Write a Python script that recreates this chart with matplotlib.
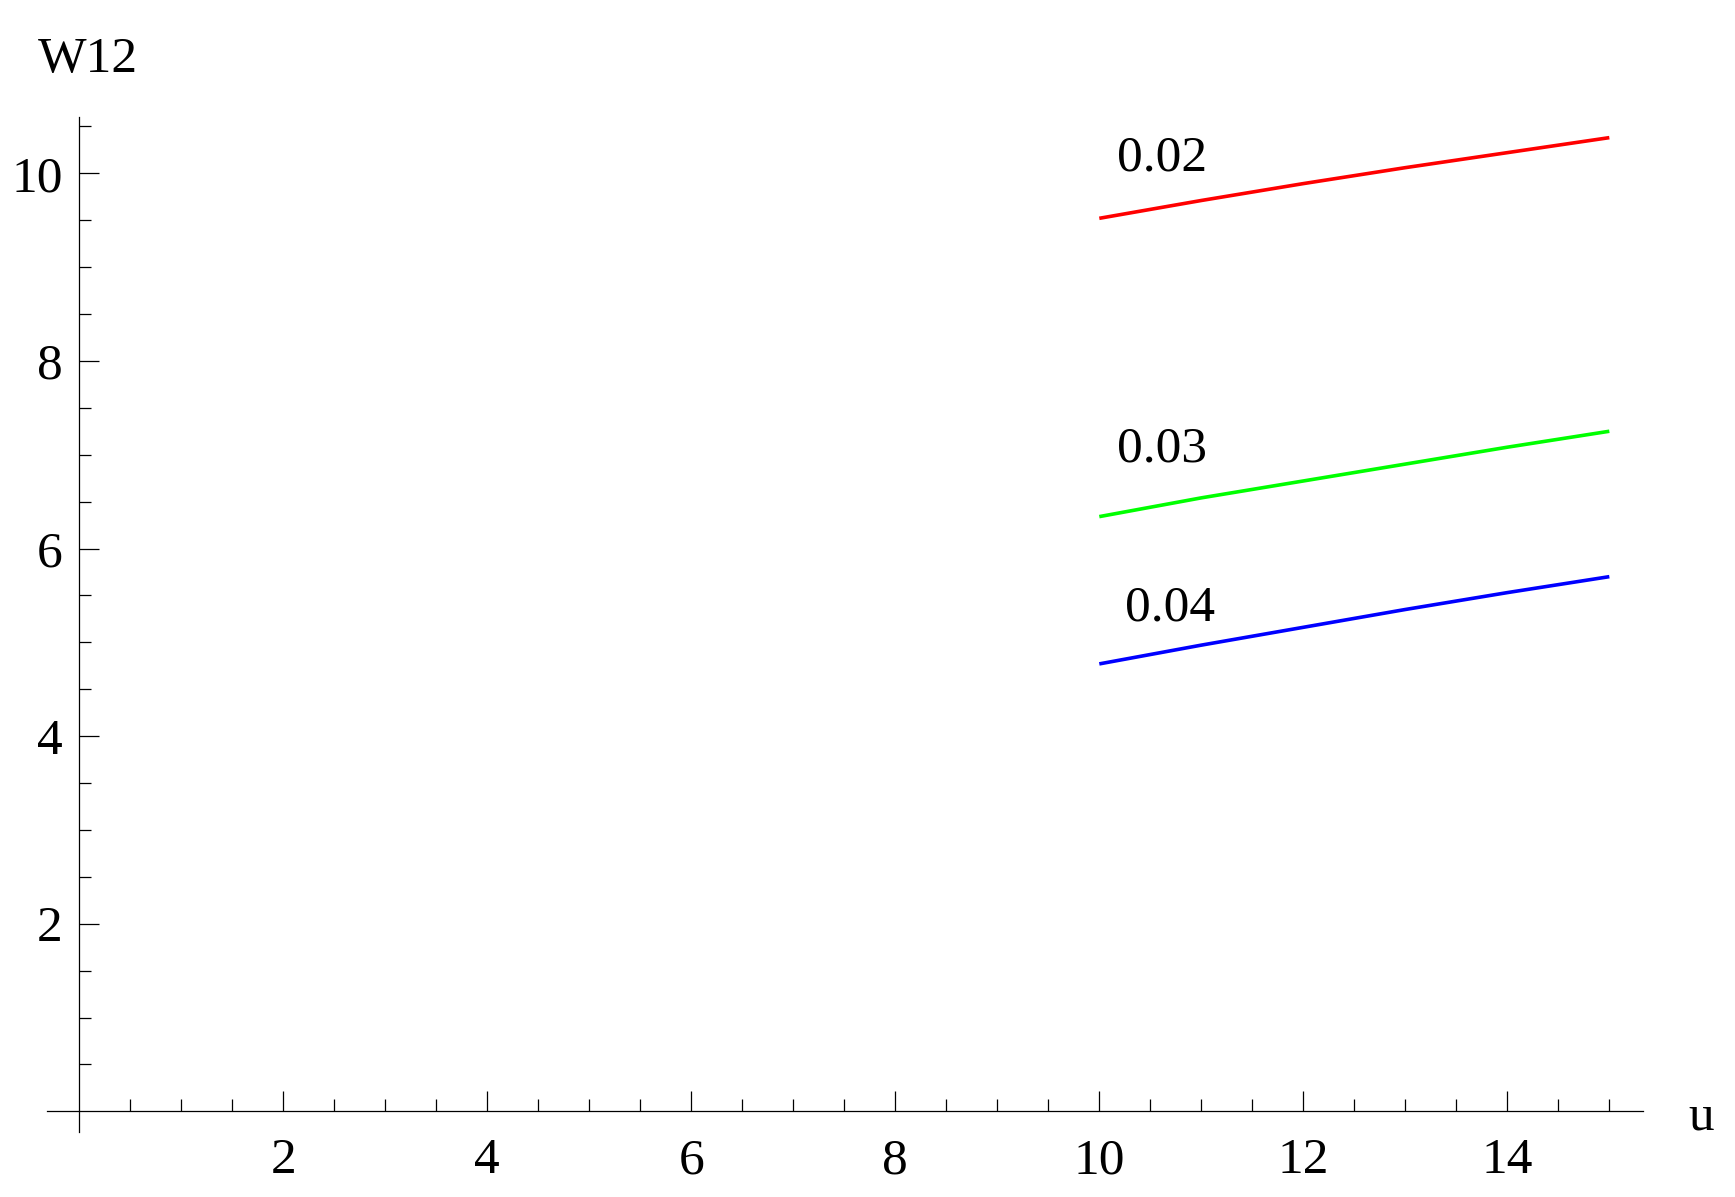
import matplotlib
matplotlib.use("Agg")

import numpy as np
import matplotlib.pyplot as plt
from matplotlib.ticker import FixedLocator

# data
u = [10, 11, 12, 13, 14, 15]
w_002 = [9.52, 9.71, 9.89, 10.06, 10.22, 10.38]
w_003 = [6.34, 6.54, 6.72, 6.90, 7.08, 7.25]
w_004 = [4.77, 4.97, 5.16, 5.35, 5.53, 5.70]

series = [
    ("0.02", w_002, "#ff0000", (10.17, 10.03)),
    ("0.03", w_003, "#00ff00", (10.17, 6.93)),
    ("0.04", w_004, "#0000ff", (10.25, 5.23)),
]

x_major = [2, 4, 6, 8, 10, 12, 14]
y_major = [2, 4, 6, 8, 10]

plt.rcParams['font.family'] = ['Liberation Serif', 'DejaVu Serif']
FS = 37

fig = plt.figure(figsize=(17.35, 11.97), dpi=100)
ax = fig.add_axes([47/1735, 1 - 1132/1197, (1643 - 47)/1735, (1132 - 117)/1197])

for name, vals, col, (lx, ly) in series:
    ax.plot(u, vals, color=col, lw=2.6, solid_capstyle='butt')
    ax.text(lx, ly, name, fontsize=FS, ha='left', va='baseline')

ax.set_xlim(-0.316, 15.33)
ax.set_ylim(-0.22, 10.6)

for s in ['top', 'right']:
    ax.spines[s].set_visible(False)
ax.spines['left'].set_position(('data', 0))
ax.spines['bottom'].set_position(('data', 0))
for s in ['left', 'bottom']:
    ax.spines[s].set_linewidth(0.9)

ax.xaxis.set_major_locator(FixedLocator(x_major))
ax.yaxis.set_major_locator(FixedLocator(y_major))
ax.xaxis.set_minor_locator(FixedLocator([v for v in np.arange(0.5, 15.01, 0.5) if v not in x_major]))
ax.yaxis.set_minor_locator(FixedLocator([v for v in np.arange(0.5, 10.51, 0.5) if v not in y_major]))

ax.tick_params(which='both', direction='in', width=0.9, labelsize=FS)
ax.tick_params(which='major', length=14.4)
ax.tick_params(which='minor', length=8.6)
ax.tick_params(axis='x', which='major', pad=19)
ax.tick_params(axis='y', which='major', pad=12)

fig.text(38/1735, 1 - 72/1197, "W12", fontsize=FS, ha='left', va='baseline')
fig.text(1688/1735, 1 - 1130/1197, "u", fontsize=FS, ha='left', va='baseline')

fig.savefig("out.png", dpi=100)
